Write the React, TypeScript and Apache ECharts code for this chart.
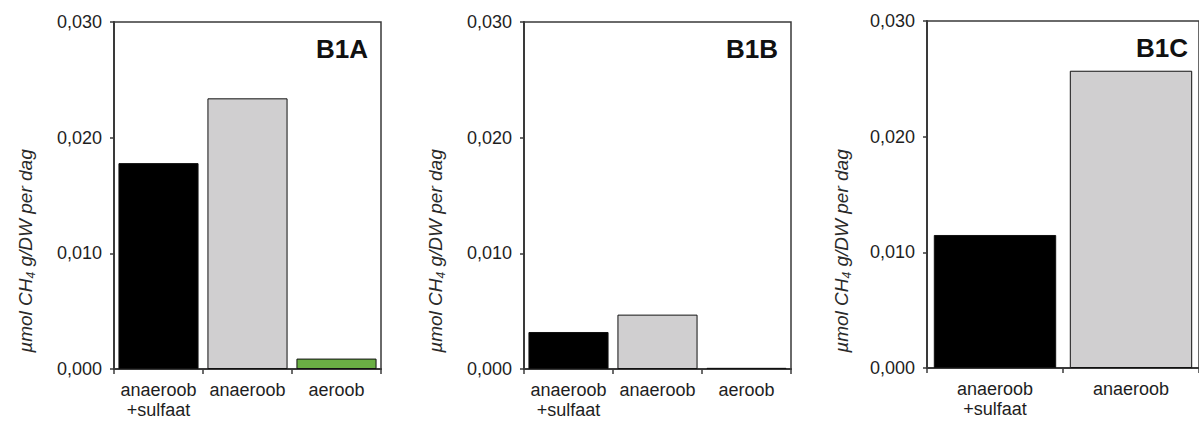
import React, { useEffect, useRef } from "react";
import * as echarts from "echarts";

// Methane production per incubation condition, three sample locations
const categoriesB1A = ["anaeroob\n+sulfaat", "anaeroob", "aeroob"];
const valuesB1A = [0.0178, 0.0234, 0.0009];

const categoriesB1B = ["anaeroob\n+sulfaat", "anaeroob", "aeroob"];
const valuesB1B = [0.0032, 0.0047, 0.0001];

const categoriesB1C = ["anaeroob\n+sulfaat", "anaeroob"];
const valuesB1C = [0.0115, 0.0257];

const panelTitles = ["B1A", "B1B", "B1C"];
const yTicks = [0, 0.01, 0.02, 0.03];

const conditionColors: Record<string, string> = {
  "anaeroob\n+sulfaat": "#000000",
  anaeroob: "#d0cfd0",
  aeroob: "#6aaf44",
};

const FONT = "'Liberation Sans', Arial, sans-serif";
const AXIS_COLOR = "#3a3a3a";
const TEXT_COLOR = "#1e1e1e";

const panels = [
  { cats: categoriesB1A, vals: valuesB1A, left: 114, top: 22, width: 267, titleX: 25 },
  { cats: categoriesB1B, vals: valuesB1B, left: 524, top: 22, width: 267, titleX: 435 },
  { cats: categoriesB1C, vals: valuesB1C, left: 927, top: 21, width: 274, titleX: 841 },
];
const PLOT_H = 347;

export default function App() {
  const ref = useRef<HTMLDivElement>(null);

  useEffect(() => {
    if (!ref.current) return;
    const chart = echarts.init(ref.current, null, { renderer: "svg" });

    const grid = panels.map((p) => ({
      left: p.left,
      top: p.top,
      width: p.width,
      height: PLOT_H,
      show: true,
      borderColor: AXIS_COLOR,
      borderWidth: 1.5,
      backgroundColor: "transparent",
      containLabel: false,
    }));

    const xAxis = panels.map((p, i) => ({
      type: "category" as const,
      gridIndex: i,
      data: p.cats,
      axisLine: { show: true, lineStyle: { color: AXIS_COLOR, width: 2 } },
      axisTick: { show: true, length: 5, alignWithLabel: false, lineStyle: { color: AXIS_COLOR, width: 1.5 } },
      axisLabel: {
        margin: 11,
        color: TEXT_COLOR,
        fontFamily: FONT,
        fontSize: 18,
        lineHeight: 20,
        interval: 0,
        align: "center" as const,
      },
      splitLine: { show: false },
    }));

    const yAxis = panels.map((_, i) => ({
      type: "value" as const,
      gridIndex: i,
      min: yTicks[0],
      max: yTicks[yTicks.length - 1],
      interval: 0.01,
      axisLine: { show: true, lineStyle: { color: AXIS_COLOR, width: 2 } },
      axisTick: { show: true, length: 4, lineStyle: { color: AXIS_COLOR, width: 1.5 } },
      axisLabel: {
        margin: 12,
        color: TEXT_COLOR,
        fontFamily: FONT,
        fontSize: 18,
        formatter: (v: number) => v.toFixed(3).replace(".", ","),
      },
      splitLine: { show: false },
    }));

    const series = panels.map((p, i) => ({
      type: "bar" as const,
      xAxisIndex: i,
      yAxisIndex: i,
      barCategoryGap: "10%",
      data: p.vals.map((v, j) => ({
        value: v,
        itemStyle: {
          color: conditionColors[p.cats[j]],
          borderColor: "#111111",
          borderWidth: 1,
        },
      })),
    }));

    const graphic: any[] = [];
    panels.forEach((p, i) => {
      // panel label in the top-right corner of the plot
      graphic.push({
        type: "text",
        x: p.left + p.width - 13,
        y: p.top + 27,
        style: {
          text: panelTitles[i],
          fontFamily: FONT,
          fontWeight: "bold",
          fontSize: 26,
          fill: "#111111",
          textAlign: "right",
          textVerticalAlign: "middle",
        },
      });
      // rotated y-axis title with subscript
      graphic.push({
        type: "text",
        x: p.titleX,
        y: 251,
        rotation: Math.PI / 2,
        style: {
          text: "{n|µmol CH}{s|4}{n| g/DW per dag}",
          textAlign: "center",
          textVerticalAlign: "middle",
          fill: "#2a2a2a",
          rich: {
            n: { fontFamily: FONT, fontStyle: "italic", fontSize: 19, lineHeight: 24, fill: "#2a2a2a" },
            s: {
              fontFamily: FONT,
              fontStyle: "italic",
              fontSize: 12,
              lineHeight: 24,
              verticalAlign: "bottom",
              fill: "#2a2a2a",
            },
          },
        },
      });
    });

    chart.setOption({
      animation: false,
      backgroundColor: "#ffffff",
      grid,
      xAxis,
      yAxis,
      series,
      graphic,
    });

    return () => chart.dispose();
  }, []);

  return (
    <div
      ref={ref}
      style={{ position: "absolute", left: 0, top: 0, width: 1199, height: 421, overflow: "hidden" }}
    />
  );
}
